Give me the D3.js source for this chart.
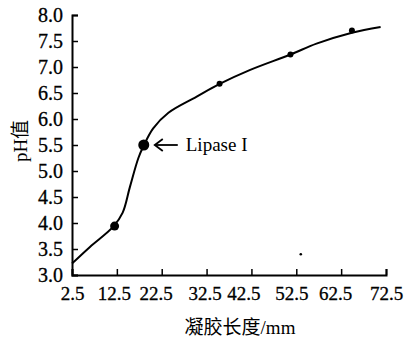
<!DOCTYPE html>
<html>
<head>
<meta charset="utf-8">
<script src="https://cdn.jsdelivr.net/npm/d3@7"></script>
<style>
    body { margin: 0; background: #fff; }
    text { font-family: "Liberation Serif", "Noto Sans CJK SC", serif; fill: #000; }
</style>
</head>
<body>
<div id="chart"></div>
<script>
(function () {
    // fitted curve
    var curveX = [2.5, 6.5, 11.7, 13.8, 15.4, 17.3, 18.5, 20.6, 24.0, 30.3, 35.3, 42.1, 51.2, 57.0, 64.9, 71.3];
    var curveY = [3.22, 3.54, 3.93, 4.20, 4.69, 5.25, 5.49, 5.82, 6.12, 6.43, 6.67, 6.94, 7.24, 7.45, 7.66, 7.77];

    // measured points
    var pointX = [12.0, 18.5, 35.4, 51.2, 64.9];
    var pointY = [3.94, 5.50, 6.68, 7.24, 7.70];
    var pointBig = [true, true, false, false, false];

    // stray mark on the scan
    var speckX = [53.5];
    var speckY = [3.40];

    var xTicks = [2.5, 12.5, 22.5, 32.5, 42.5, 52.5, 62.5, 72.5];
    var yTicks = [3.0, 3.5, 4.0, 4.5, 5.0, 5.5, 6.0, 6.5, 7.0, 7.5, 8.0];

    var xTitle = '凝胶长度/mm';
    var yTitle = 'pH值';
    var note = 'Lipase I';
    var noteIndex = 1;

    var width = 405;
    var height = 337;

    var x = d3.scaleLinear().domain([2.5, 72.5]).range([72, 386]);
    var y = d3.scaleLinear().domain([3, 8]).range([275, 15]);

    var svg = d3.select('#chart')
        .append('svg')
        .attr('width', width)
        .attr('height', height);

    // axes, ticks pointing inward
    var xAxis = d3.axisBottom(x).tickValues(xTicks).tickSize(-6).tickPadding(12)
        .tickFormat(d3.format('.1f'));
    var yAxis = d3.axisLeft(y).tickValues(yTicks).tickSize(-6).tickPadding(9)
        .tickFormat(d3.format('.1f'));

    // the printed labels are not quite centred on their ticks
    var xLabelShift = [0, -3, -6, -2, -8, -5, -6, 0];

    var gx = svg.append('g')
        .attr('transform', 'translate(0,' + y(3) + ')')
        .call(xAxis);
    gx.selectAll('text')
        .style('font-size', '19px')
        .attr('dx', function(d, i) { return xLabelShift[i]; });

    var gy = svg.append('g')
        .attr('transform', 'translate(' + x(2.5) + ',0)')
        .call(yAxis);
    gy.selectAll('text').style('font-size', '20px');

    [gx, gy].forEach(function(g) {
        g.select('.domain').attr('stroke', '#000').attr('stroke-width', 2);
        g.selectAll('.tick line').attr('stroke', '#000').attr('stroke-width', 1.5);
        g.selectAll('text').attr('font-family', null)
            .attr('stroke', '#000').attr('stroke-width', 0.3);
    });

    // curve
    var line = d3.line()
        .x(function(d) { return x(d[0]); })
        .y(function(d) { return y(d[1]); })
        .curve(d3.curveCatmullRom.alpha(0.5));

    svg.append('path')
        .datum(d3.zip(curveX, curveY))
        .attr('d', line)
        .attr('fill', 'none')
        .attr('stroke', '#000')
        .attr('stroke-width', 2);

    // points
    svg.selectAll('.pt')
        .data(d3.range(pointX.length))
        .enter()
        .append('circle')
        .attr('class', 'pt')
        .attr('cx', function(i) { return x(pointX[i]); })
        .attr('cy', function(i) { return y(pointY[i]); })
        .attr('r', function(i) { return pointBig[i] ? (i === noteIndex ? 5.5 : 4.5) : 3; })
        .attr('fill', '#000');

    svg.selectAll('.speck')
        .data(d3.range(speckX.length))
        .enter()
        .append('circle')
        .attr('class', 'speck')
        .attr('cx', function(i) { return x(speckX[i]); })
        .attr('cy', function(i) { return y(speckY[i]); })
        .attr('r', 1.3)
        .attr('fill', '#000');

    // annotation arrow + label
    var ax = x(pointX[noteIndex]) + 11;
    var ay = y(pointY[noteIndex]);

    svg.append('line')
        .attr('x1', ax).attr('y1', ay)
        .attr('x2', ax + 23).attr('y2', ay)
        .attr('stroke', '#000').attr('stroke-width', 1.8);

    svg.append('path')
        .attr('d', 'M' + (ax + 8) + ',' + (ay - 6) + 'L' + ax + ',' + ay + 'L' + (ax + 8) + ',' + (ay + 6))
        .attr('fill', 'none')
        .attr('stroke', '#000')
        .attr('stroke-width', 1.8);

    svg.append('text')
        .attr('x', ax + 31)
        .attr('y', ay + 6)
        .style('font-size', '19px')
        .text(note);

    // axis titles
    svg.append('text')
        .attr('x', 240)
        .attr('y', 334)
        .attr('text-anchor', 'middle')
        .style('font-size', '19px')
        .text(xTitle);

    svg.append('text')
        .attr('transform', 'translate(27,141) rotate(-90)')
        .attr('text-anchor', 'middle')
        .style('font-size', '19px')
        .text(yTitle);
})();
</script>
</body>
</html>
